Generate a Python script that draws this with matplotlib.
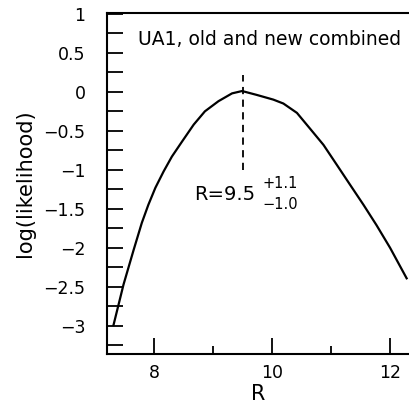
import numpy as np
import matplotlib
matplotlib.use('Agg')
import matplotlib.pyplot as plt
from matplotlib.ticker import MultipleLocator, FixedLocator

# curve
r_vals = [7.31, 7.48, 7.65, 7.79, 7.90, 8.02, 8.16, 8.30, 8.47, 8.67, 8.86,
          9.09, 9.32, 9.49, 9.74, 10.02, 10.19, 10.42, 10.64, 10.87, 11.10,
          11.32, 11.55, 11.77, 12.0, 12.28]
loglik = [-2.99, -2.47, -2.03, -1.68, -1.45, -1.23, -1.02, -0.83, -0.64, -0.42, -0.25,
          -0.12, -0.02, 0.01, -0.04, -0.10, -0.15, -0.27, -0.47, -0.68, -0.94,
          -1.19, -1.45, -1.71, -2.0, -2.39]
r_best = 9.5
y_ticks = [1, 0.5, 0, -0.5, -1, -1.5, -2, -2.5, -3]
y_labels = ['1', '0.5', '0', '\u22120.5', '\u22121', '\u22121.5', '\u22122', '\u22122.5', '\u22123']
x_ticks = [8, 10, 12]
x_labels = ['8', '10', '12']

plt.rcParams['font.family'] = ['DejaVu Sans']
fig = plt.figure(figsize=(4.09, 4.04), dpi=100)
ax = fig.add_axes([107/409, 50/404, 1 - 107/409, (354-13)/404])

ax.plot(r_vals, loglik, color='black', lw=1.6)
ax.plot([r_best, r_best], [-1.0, 0.22], color='black', lw=1.3, dashes=(4, 3))

ax.set_xlim(7.2, 12.32)
ax.set_ylim(-3.36, 1.01)
ax.spines['right'].set_visible(False)
for s in ['left', 'top', 'bottom']:
    ax.spines[s].set_linewidth(1.5)

ax.set_yticks(y_ticks)
ax.set_yticklabels(y_labels)
ax.yaxis.set_minor_locator(MultipleLocator(0.25))
ax.set_xticks(x_ticks)
ax.set_xticklabels(x_labels)
ax.xaxis.set_minor_locator(FixedLocator([9, 11]))
ax.tick_params(axis='y', which='both', direction='in', length=11.5, width=1.3, labelsize=12.5, pad=15.5)
ax.tick_params(axis='x', which='major', direction='in', length=11.5, width=1.3, labelsize=12.5, pad=7.5)
ax.tick_params(axis='x', which='minor', direction='in', length=5.8, width=1.3)

ax.set_xlabel('R', fontsize=15, labelpad=1)
ax.set_ylabel('log(likelihood)', fontsize=15, labelpad=6)

ax.text(7.725, 0.67, 'UA1, old and new combined', fontsize=13.5, va='center')
ax.text(9.71, -1.31, 'R=9.5', fontsize=14, ha='right', va='center')
ax.text(9.83, -1.17, '+1.1', fontsize=10.5, ha='left', va='center')
ax.text(9.83, -1.45, '\u22121.0', fontsize=10.5, ha='left', va='center')

fig.savefig('out.png', dpi=100)
